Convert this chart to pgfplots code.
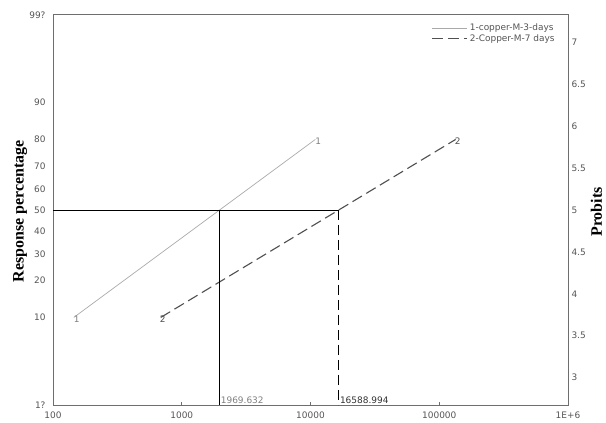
\documentclass[border=0pt]{standalone}
\usepackage{fontspec}
\setmainfont{DejaVu Sans}
\newfontfamily\serifb{Liberation Serif}
\usepackage{pgfplots}
\pgfplotsset{compat=1.18}
\definecolor{framec}{HTML}{6E6E6E}
\definecolor{tickc}{HTML}{555555}
\definecolor{s1c}{HTML}{AAAAAA}
\definecolor{s2c}{HTML}{505050}
\begin{document}
\begin{tikzpicture}
\begin{axis}[
  scale only axis, width=515bp, height=390bp,
  xmode=log, xmin=100, xmax=1000000,
  ymin=2.6737, ymax=7.3263,
  axis line style={framec, line width=1bp},
  xtick={100,1000,10000,100000,1000000},
  xticklabels={100,1000,10000,100000,1E+6},
  ytick={2.6737,3.7184,4.1584,4.4756,4.7467,5,5.2533,5.5244,5.8416,6.2816,7.3263},
  yticklabels={1?,10,20,30,40,50,60,70,80,90,99?},
  ytick style={draw=none},
  xtick pos=bottom, tick align=inside, major tick length=2.5bp,
  minor tick num=0, xminorticks=false,
  xtick style={framec, line width=0.8bp},
  ticklabel style={font=\fontsize{9}{10}\selectfont, text=tickc},
  xticklabel style={yshift=-3bp},
  yticklabel style={xshift=-4bp},
  /pgf/number format/assume math mode=true,
  clip=false,
  legend style={at={(axis description cs:0.98,0.985)}, anchor=north east, draw=none, fill=none,
    font=\fontsize{9}{10}\selectfont, text=tickc, row sep=-2bp, inner sep=1bp},
  legend cell align=left,
  legend image code/.code={\draw[#1] (0bp,0bp) -- (35bp,0bp);},
]
\addplot[color=s1c, line width=0.7bp, nodes near coords, point meta=explicit symbolic,
  every node near coord/.style={anchor=center, font=\fontsize{9}{10}\selectfont, text=gray, xshift=3bp, yshift=-2bp}]
  coordinates {(145,3.7184)[1] (10900,5.8416)[1]};
\addplot[color=s2c, line width=1.1bp, dash pattern=on 11bp off 5bp, nodes near coords, point meta=explicit symbolic,
  every node near coord/.style={anchor=center, font=\fontsize{9}{10}\selectfont, text=s2c, xshift=2bp, yshift=-2bp}]
  coordinates {(687,3.7184)[2] (134000,5.8416)[2]};
\legend{1-copper-M-3-days, 2-Copper-M-7 days}
\addplot[black, line width=0.9bp, forget plot] coordinates {(100,5) (16588.994,5)};
\addplot[black, line width=0.9bp, forget plot] coordinates {(1969.632,5) (1969.632,2.6737)};
\addplot[black, line width=1.2bp, dash pattern=on 10bp off 5bp, forget plot] coordinates {(16588.994,5) (16588.994,2.6737)};
\node[anchor=south west, font=\fontsize{9}{10}\selectfont, text=gray, inner sep=1bp] at (axis cs:1969.632,2.6737) {1969.632};
\node[anchor=south west, font=\fontsize{9}{10}\selectfont, text=black!80, inner sep=1bp] at (axis cs:16588.994,2.6737) {16588.994};
\node[rotate=90, font=\serifb\bfseries\fontsize{16}{18}\selectfont] at (axis description cs:-0.064,0.497) {Response percentage};
\node[rotate=90, font=\serifb\bfseries\fontsize{16}{18}\selectfont, inner sep=0pt] at (axis description cs:1.055,0.495) {Probits};
\end{axis}
\begin{axis}[
  scale only axis, width=515bp, height=390bp,
  xmode=log, xmin=100, xmax=1000000,
  ymin=2.6737, ymax=7.3263,
  axis x line=none, axis y line*=right,
  axis line style={framec, line width=1bp},
  ytick={3,3.5,4,4.5,5,5.5,6,6.5,7},
  yticklabels={3,3.5,4,4.5,5,5.5,6,6.5,7},
  ytick style={draw=none},
  ticklabel style={font=\fontsize{9}{10}\selectfont, text=tickc},
  /pgf/number format/assume math mode=true,
]
\addplot[draw=none] coordinates {(1000,5)};
\end{axis}
\pgfresetboundingbox
\path (-53bp,-18bp) rectangle (553bp,405bp);
\end{tikzpicture}
\end{document}
